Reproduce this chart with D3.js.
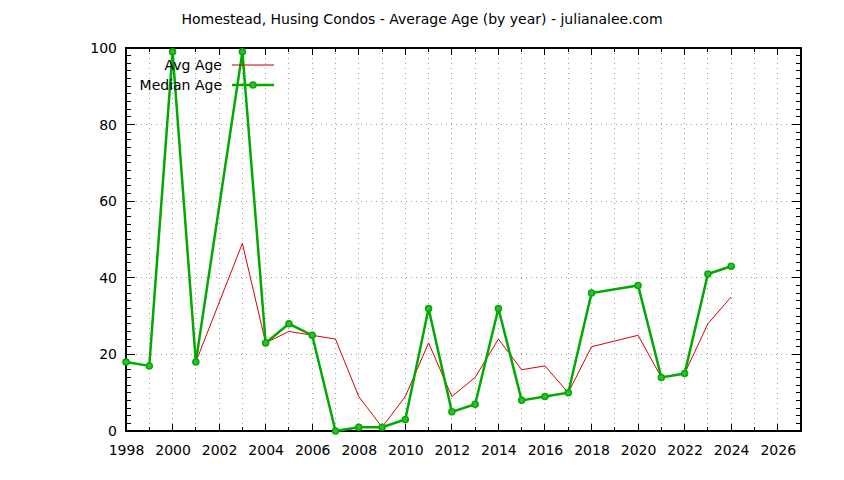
<!DOCTYPE html>
<html>
<head>
<meta charset="utf-8">
<script src="https://cdn.jsdelivr.net/npm/d3@7"></script>
<style>
  html, body { margin: 0; padding: 0; background: #fff; }
  svg { display: block; font-family: "DejaVu Sans", sans-serif; }
</style>
</head>
<body>
<svg id="chart" width="844" height="480"></svg>
<script>
const chartTitle = "Homestead, Husing Condos - Average Age (by year) - julianalee.com";
const years      = [1998, 1999, 2000, 2001, 2003, 2004, 2005, 2006, 2007, 2008, 2009, 2010, 2011, 2012, 2013, 2014, 2015, 2016, 2017, 2018, 2020, 2021, 2022, 2023, 2024];
const avgAge     = [18, 17, 99, 18, 49, 23, 26, 25, 24, 9, 1, 9, 23, 9, 14, 24, 16, 17, 10, 22, 25, 14, 15, 28, 35];
const medianAge  = [18, 17, 99, 18, 99, 23, 28, 25, 0, 1, 1, 3, 32, 5, 7, 32, 8, 9, 10, 36, 38, 14, 15, 41, 43];
const xTickLabels = [1998, 2000, 2002, 2004, 2006, 2008, 2010, 2012, 2014, 2016, 2018, 2020, 2022, 2024, 2026];
const yTickLabels = [0, 20, 40, 60, 80, 100];
const seriesNames = ["Avg Age", "Median Age"];

const svg = d3.select("#chart");
const L = 126, R = 801, T = 48, B = 431;
const x = d3.scaleLinear().domain([1998, 2027]).range([L, R]);
const y = d3.scaleLinear().domain([0, 100]).range([B, T]);

const red = "#dd0000", green = "#00aa00";
const fontSize = 14;

// grid
const gridYears = d3.range(1999, 2027);
svg.append("g").selectAll("line").data(gridYears).join("line")
  .attr("x1", d => x(d)).attr("x2", d => x(d))
  .attr("y1", T).attr("y2", B)
  .attr("stroke", "#a0a0a0").attr("stroke-width", 1)
  .attr("stroke-dasharray", "1,4").attr("shape-rendering", "crispEdges");
svg.append("g").selectAll("line").data(yTickLabels.filter(v => v > 0 && v < 100)).join("line")
  .attr("x1", L).attr("x2", R)
  .attr("y1", d => y(d)).attr("y2", d => y(d))
  .attr("stroke", "#a0a0a0").attr("stroke-width", 1)
  .attr("stroke-dasharray", "1,4").attr("shape-rendering", "crispEdges");

// axes
const tickYears = d3.range(1998, 2028);
const xBottom = d3.axisBottom(x).tickValues(xTickLabels).tickFormat(d3.format("d")).tickSize(0).tickPadding(14);
const gxb = svg.append("g").attr("transform", `translate(0,${B})`).call(xBottom);
gxb.select(".domain").remove();
gxb.selectAll("text").attr("font-size", fontSize).attr("font-family", "DejaVu Sans").attr("fill", "#000");

const yLeft = d3.axisLeft(y).tickValues(yTickLabels).tickSize(0).tickPadding(9);
const gyl = svg.append("g").attr("transform", `translate(${L},0)`).call(yLeft);
gyl.select(".domain").remove();
gyl.selectAll("text").attr("font-size", fontSize).attr("font-family", "DejaVu Sans").attr("fill", "#000");

// tick marks (inward, mirrored)
const ticks = svg.append("g").attr("stroke", "#000").attr("stroke-width", 1).attr("shape-rendering", "crispEdges");
tickYears.forEach(yr => {
  const major = (yr % 2 === 0);
  const len = major ? 7 : 4;
  ticks.append("line").attr("x1", x(yr)).attr("x2", x(yr)).attr("y1", B).attr("y2", B - len);
  ticks.append("line").attr("x1", x(yr)).attr("x2", x(yr)).attr("y1", T).attr("y2", T + len);
});
d3.range(0, 101, 2).forEach(v => {
  const major = (v % 20 === 0);
  const len = major ? 9 : 5;
  ticks.append("line").attr("x1", L).attr("x2", L + len).attr("y1", y(v)).attr("y2", y(v));
  ticks.append("line").attr("x1", R).attr("x2", R - len).attr("y1", y(v)).attr("y2", y(v));
});

// border
svg.append("rect").attr("x", L).attr("y", T).attr("width", R - L).attr("height", B - T)
  .attr("fill", "none").attr("stroke", "#000").attr("stroke-width", 1.4).attr("shape-rendering", "crispEdges");

// lines
const avgData = years.map((yr, i) => [yr, avgAge[i]]);
const medData = years.map((yr, i) => [yr, medianAge[i]]);
const line = d3.line().x(d => x(d[0])).y(d => y(d[1]));

svg.append("path").datum(avgData).attr("d", line)
  .attr("fill", "none").attr("stroke", red).attr("stroke-width", 1);

svg.append("path").datum(medData).attr("d", line)
  .attr("fill", "none").attr("stroke", green).attr("stroke-width", 2.5).attr("stroke-linejoin", "miter");

svg.append("g").selectAll("circle").data(medData).join("circle")
  .attr("cx", d => x(d[0])).attr("cy", d => y(d[1])).attr("r", 3)
  .attr("fill", "#33bb33").attr("stroke", green).attr("stroke-width", 1.5);

// legend
const lg = svg.append("g");
lg.append("text").attr("x", 222).attr("y", 65).attr("dy", "0.35em").attr("text-anchor", "end")
  .attr("font-size", fontSize).text(seriesNames[0]);
lg.append("line").attr("x1", 232).attr("x2", 274).attr("y1", 65).attr("y2", 65)
  .attr("stroke", "#bb0000").attr("stroke-width", 1);
lg.append("text").attr("x", 222).attr("y", 85).attr("dy", "0.35em").attr("text-anchor", "end")
  .attr("font-size", fontSize).text(seriesNames[1]);
lg.append("line").attr("x1", 232).attr("x2", 274).attr("y1", 85).attr("y2", 85)
  .attr("stroke", green).attr("stroke-width", 2.5);
lg.append("circle").attr("cx", 253).attr("cy", 85).attr("r", 3)
  .attr("fill", "#33bb33").attr("stroke", green).attr("stroke-width", 1.5);

// title
svg.append("text").attr("x", 422).attr("y", 19).attr("dy", "0.35em").attr("text-anchor", "middle")
  .attr("font-size", fontSize).text(chartTitle);
</script>
</body>
</html>
